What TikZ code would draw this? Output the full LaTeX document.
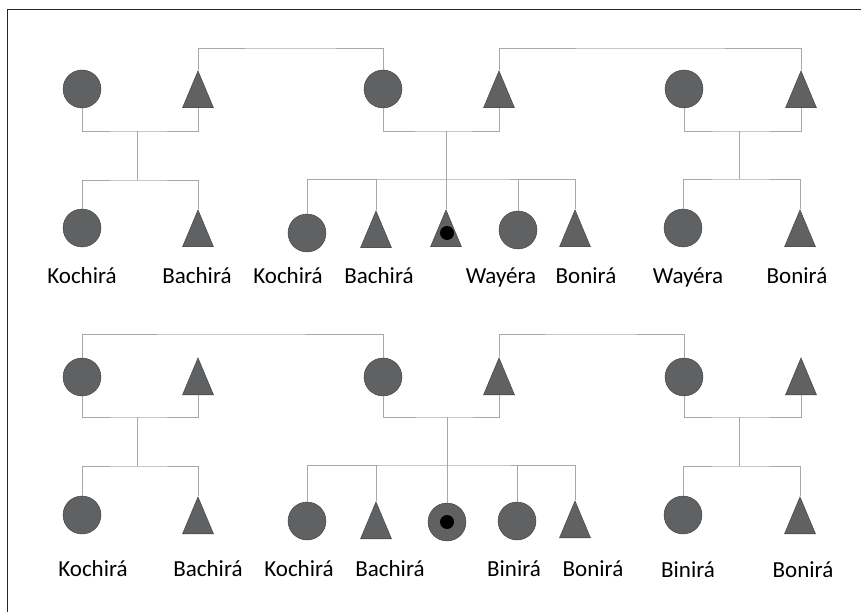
\documentclass[tikz,border=0pt]{standalone}
\usepackage{fontspec}
\setmainfont{Carlito}
\usetikzlibrary{shapes.geometric}
\definecolor{shade}{HTML}{5F6163}
\definecolor{rim}{HTML}{3C3C3C}
\definecolor{kin}{HTML}{A8A8A8}

\begin{document}
\begin{tikzpicture}[x=1pt, y=-1pt,
  female/.style={circle, draw=rim, fill=shade, thin, minimum size=38pt, inner sep=0pt},
  male/.style={isosceles triangle, shape border rotate=90, isosceles triangle stretches,
    draw=rim, fill=shade, thin, minimum width=31pt, minimum height=37pt, inner sep=0pt, anchor=south},
  ego/.style={circle, fill=black, minimum size=14pt, inner sep=0pt},
  tie/.style={draw=kin, line width=0.9pt},
  kinlabel/.style={font=\fontsize{23}{27}\selectfont, inner sep=0pt, anchor=base}
]
\useasboundingbox (0,0) rectangle (861,612);
\draw[line width=1pt, draw=black!85] (7,612) -- (7,10) -- (861,10);

% upper chart: parents
\node[female] (umA) at (82,89) {};
\node[male] (ufA) at (198,108) {};
\node[female] (umB) at (383,89) {};
\node[male] (ufB) at (499,108) {};
\node[female] (umC) at (684,89) {};
\node[male] (ufC) at (801,108) {};
% upper chart: children
\node[female] (ucA1) at (82,228) {};
\node[male] (ucA2) at (198,247) {};
\node[female] (ucB1) at (307,233) {};
\node[male] (ucB2) at (376,248) {};
\node[male] (ucB3) at (446,247) {};
\node[ego] (uego) at (447,233) {};
\node[female] (ucB4) at (518,230) {};
\node[male] (ucB5) at (575,247) {};
\node[female] (ucC1) at (683,228) {};
\node[male] (ucC2) at (800,247) {};
% upper chart: junctions
\coordinate (utAB) at (290,48);
\coordinate (utBC) at (650,48);
\coordinate (ujA) at (137,131);
\coordinate (usA) at (137,180);
\coordinate (ujB) at (446,131);
\coordinate (usB) at (446,179);
\coordinate (ujC) at (739,131);
\coordinate (usC) at (739,179);

\draw[tie] (ufA.apex) |- (utAB) -| (umB.north);
\draw[tie] (ufB.apex) |- (utBC) -| (ufC.apex);
\draw[tie] (umA.south) |- (ujA) -| (ufA.south);
\draw[tie] (umB.south) |- (ujB) -| (ufB.south);
\draw[tie] (umC.south) |- (ujC) -| (ufC.south);
\draw[tie] (ujA) -- (usA);
\draw[tie] (ujB) -- (usB);
\draw[tie] (ujC) -- (usC);
\draw[tie] (ucA1.north) |- (usA) -| (ucA2.apex);
\draw[tie] (ucB1.north) |- (usB) -| (ucB5.apex);
\draw[tie] (usB -| ucB2.apex) -- (ucB2.apex);
\draw[tie] (usB) -- (ucB3.apex);
\draw[tie] (usB -| ucB4.north) -- (ucB4.north);
\draw[tie] (ucC1.north) |- (usC) -| (ucC2.apex);

\node[kinlabel] (unA1) at (82,283) {Kochirá};
\node[kinlabel] (unA2) at (197,283) {Bachirá};
\node[kinlabel] (unB1) at (288,283) {Kochirá};
\node[kinlabel] (unB2) at (379,283) {Bachirá};
\node[kinlabel] (unB4) at (501,283) {Wayéra};
\node[kinlabel] (unB5) at (586,283) {Bonirá};
\node[kinlabel] (unC1) at (688,283) {Wayéra};
\node[kinlabel] (unC2) at (797,283) {Bonirá};

% lower chart: parents
\node[female] (lmA) at (82,377) {};
\node[male] (lfA) at (198,395) {};
\node[female] (lmB) at (383,377) {};
\node[male] (lfB) at (499,395) {};
\node[female] (lmC) at (684,377) {};
\node[male] (lfC) at (801,395) {};
% lower chart: children
\node[female] (lcA1) at (82,515) {};
\node[male] (lcA2) at (198,534) {};
\node[female] (lcB1) at (307,521) {};
\node[male] (lcB2) at (376,539) {};
\node[female] (lcB3) at (447,522) {};
\node[ego] (lego) at (lcB3) {};
\node[female] (lcB4) at (517,521) {};
\node[male] (lcB5) at (575,538) {};
\node[female] (lcC1) at (683,515) {};
\node[male] (lcC2) at (800,534) {};
% lower chart: junctions
\coordinate (ltAB) at (230,334);
\coordinate (ltBC) at (590,334);
\coordinate (ljA) at (137,417);
\coordinate (lsA) at (137,466);
\coordinate (ljB) at (447,417);
\coordinate (lsB) at (447,465);
\coordinate (ljC) at (739,417);
\coordinate (lsC) at (739,466);

\draw[tie] (lmA.north) |- (ltAB) -| (lmB.north);
\draw[tie] (lfB.apex) |- (ltBC) -| (lmC.north);
\draw[tie] (lmA.south) |- (ljA) -| (lfA.south);
\draw[tie] (lmB.south) |- (ljB) -| (lfB.south);
\draw[tie] (lmC.south) |- (ljC) -| (lfC.south);
\draw[tie] (ljA) -- (lsA);
\draw[tie] (ljB) -- (lsB);
\draw[tie] (ljC) -- (lsC);
\draw[tie] (lcA1.north) |- (lsA) -| (lcA2.apex);
\draw[tie] (lcB1.north) |- (lsB) -| (lcB5.apex);
\draw[tie] (lsB -| lcB2.apex) -- (lcB2.apex);
\draw[tie] (lsB) -- (lcB3.north);
\draw[tie] (lsB -| lcB4.north) -- (lcB4.north);
\draw[tie] (lcC1.north) |- (lsC) -| (lcC2.apex);

\node[kinlabel] (lnA1) at (93,576) {Kochirá};
\node[kinlabel] (lnA2) at (208,576) {Bachirá};
\node[kinlabel] (lnB1) at (299,576) {Kochirá};
\node[kinlabel] (lnB2) at (390,576) {Bachirá};
\node[kinlabel] (lnB4) at (514,576) {Binirá};
\node[kinlabel] (lnB5) at (593,576) {Bonirá};
\node[kinlabel] (lnC1) at (688,577) {Binirá};
\node[kinlabel] (lnC2) at (803,577) {Bonirá};
\end{tikzpicture}
\end{document}
